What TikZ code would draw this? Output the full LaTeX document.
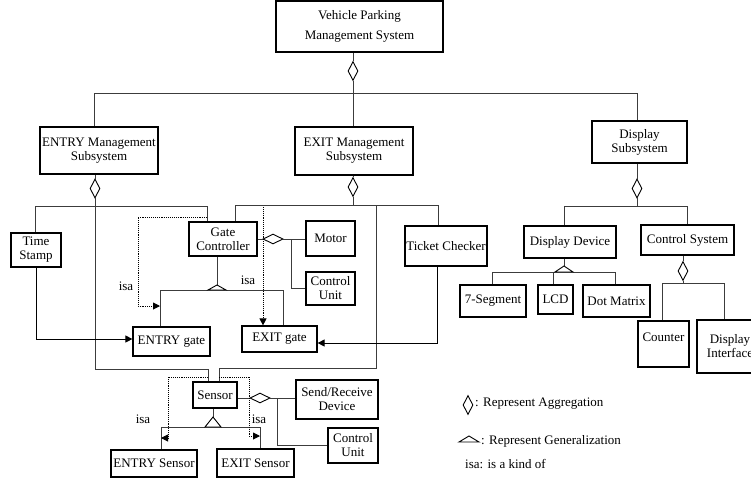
\documentclass[tikz,border=0pt]{standalone}
\usepackage{fontspec}
\setmainfont{Liberation Serif}
\usetikzlibrary{shapes.geometric, arrows.meta, positioning, calc}
\definecolor{linegray}{RGB}{60, 60, 60}
\tikzset{
    % Class boxes
    class box/.style={
        rectangle, draw=black, line width=1.2pt, inner sep=0pt,
        align=center, font=\fontsize{13}{14}\selectfont
    },
    % Aggregation diamonds
    agg/.style={
        diamond, draw=black, line width=0.9pt, fill=white, inner sep=0pt,
        minimum width=10pt, minimum height=19pt
    },
    agg h/.style={agg, minimum width=20pt, minimum height=10pt},
    % Generalization triangles
    gen/.style={draw=black, line width=0.9pt, fill=white},
    % Connectors
    link/.style={line width=0.9pt, color=linegray},
    solid arrow/.style={-{Triangle[length=7pt, width=7pt]}, line width=0.9pt, black},
    isa arrow/.style={-{Triangle[length=7pt, width=7pt]}, line width=0.9pt, densely dotted, black},
    % Plain texts
    plain text/.style={font=\fontsize{13}{14}\selectfont, inner sep=0pt}
}

\begin{document}
\begin{tikzpicture}[x=1pt, y=-1pt]

    \useasboundingbox (0,0) rectangle (751,488);

    % ======== BOXES ========
    \node[class box, minimum width=167pt, minimum height=51pt, font=\fontsize{13}{20}\selectfont] (vpms) at (359.5,26.5) {Vehicle Parking\\Management System};

    \node[class box, minimum width=118pt, minimum height=47pt] (entrymgmt) at (99,150.5) {ENTRY Management\\Subsystem};
    \node[class box, minimum width=118pt, minimum height=48pt] (exitmgmt) at (354,151) {EXIT Management\\Subsystem};
    \node[class box, minimum width=95pt, minimum height=42pt] (dispsub) at (639.5,142) {Display\\Subsystem};

    \node[class box, minimum width=50pt, minimum height=34pt] (stamp) at (36,250) {Time\\Stamp};
    \node[class box, minimum width=68pt, minimum height=34pt] (gatectrl) at (223,239) {Gate\\Controller};
    \node[class box, minimum width=49pt, minimum height=35pt] (motor) at (330.5,238.5) {Motor};
    \node[class box, minimum width=49pt, minimum height=33pt] (ctrlunit) at (330.5,288.5) {Control\\Unit};
    \node[class box, minimum width=82pt, minimum height=40pt] (ticket) at (446,246) {Ticket Checker};
    \node[class box, minimum width=77pt, minimum height=29pt] (entrygate) at (171.5,341.5) {ENTRY gate};
    \node[class box, minimum width=75pt, minimum height=26pt] (exitgate) at (279.5,339) {EXIT gate};

    \node[class box, minimum width=44pt, minimum height=26pt] (sensor) at (215,395) {Sensor};
    \node[class box, minimum width=82pt, minimum height=39pt] (sendrecv) at (337,399.5) {Send/Receive\\Device};
    \node[class box, minimum width=50pt, minimum height=35pt] (ctrlunittwo) at (353,445.5) {Control\\Unit};
    \node[class box, minimum width=86pt, minimum height=27pt] (entrysensor) at (154,463.5) {ENTRY Sensor};
    \node[class box, minimum width=77pt, minimum height=28pt] (exitsensor) at (255.5,463) {EXIT Sensor};

    \node[class box, minimum width=92pt, minimum height=32pt] (dispdev) at (570,242) {Display Device};
    \node[class box, minimum width=93pt, minimum height=30pt] (ctrlsys) at (687.5,240) {Control System};
    \node[class box, minimum width=66pt, minimum height=32pt] (sevenseg) at (493,301) {7-Segment};
    \node[class box, minimum width=35pt, minimum height=29pt] (lcd) at (555.5,299.5) {LCD};
    \node[class box, minimum width=67pt, minimum height=32pt] (dotmatrix) at (616.5,301) {Dot Matrix};
    \node[class box, minimum width=51pt, minimum height=46pt] (counter) at (663.5,344) {Counter\\~};
    \node[class box, minimum width=66pt, minimum height=53pt] (dispif) at (730,346.5) {Display\\Interface};

    % ======== SYSTEM LEVEL ========
    \node[agg] (d0) at (353,71) {};
    \coordinate (b0) at (353,93);
    \coordinate (b0w) at (94,93);
    \coordinate (b0e) at (637,93);
    \draw[link] (vpms.south -| d0) -- (d0.north);
    \draw[link] (d0.south) -- (b0);
    \draw[link] (b0w) -- (b0e);
    \draw[link] (b0w) -- (b0w |- entrymgmt.north);
    \draw[link] (b0) -- (b0 |- exitmgmt.north);
    \draw[link] (b0e) -- (b0e |- dispsub.north);

    % ======== ENTRY MANAGEMENT ========
    \node[agg] (d1) at (95,188.5) {};
    \coordinate (b1w) at (35,206);
    \coordinate (b1e) at (207,206);
    \coordinate (s1) at (95,369);
    \coordinate (s1c) at (208,369);
    \draw[link] (entrymgmt.south -| d1) -- (d1.north);
    \draw[link] (d1.south) -- (s1) -- (s1c) -- (s1c |- sensor.north);
    \draw[link] (b1w) -- (b1e);
    \draw[link] (b1w) -- (b1w |- stamp.north);
    \draw[link] (b1e) -- (b1e |- gatectrl.north);

    % ======== EXIT MANAGEMENT ========
    \node[agg] (d2) at (353,187) {};
    \coordinate (b2) at (353,205);
    \coordinate (b2w) at (235,205);
    \coordinate (b2e) at (438,205);
    \coordinate (s2) at (376,205);
    \coordinate (s2d) at (376,368);
    \coordinate (s2c) at (219,368);
    \draw[link] (exitmgmt.south -| d2) -- (d2.north);
    \draw[link] (d2.south) -- (b2);
    \draw[link] (b2w) -- (b2e);
    \draw[link] (b2w) -- (b2w |- gatectrl.north);
    \draw[link] (b2e) -- (b2e |- ticket.north);
    \draw[link] (s2) -- (s2d) -- (s2c) -- (s2c |- sensor.north);

    % Gate controller: aggregation
    \node[agg h] (d5) at (273,239) {};
    \coordinate (c5) at (291,239);
    \draw[link] (gatectrl.east |- d5) -- (d5.west);
    \draw[link] (d5.east) -- (motor.west |- d5);
    \draw[link] (c5) |- (ctrlunit.west);

    % Gate controller: generalization
    \coordinate (g1) at (217,285);
    \coordinate (b6w) at (160,290);
    \coordinate (b6e) at (283,290);
    \draw[link] (gatectrl.south -| g1) -- (g1);
    \draw[link] (b6w) -- (b6e);
    \draw[link] (b6w) -- (b6w |- entrygate.north);
    \draw[link] (b6e) -- (b6e |- exitgate.north);
    \draw[gen] (g1) -- ++(-9,5) -- ++(18,0) -- cycle;

    % isa arrows (gates)
    \coordinate (i1) at (207,217);
    \coordinate (i1a) at (138,217);
    \coordinate (i1b) at (138,306);
    \draw[isa arrow] (i1) -- (i1a) -- (i1b) -- (i1b -| b6w);
    \node[plain text] (isaone) at (126,286) {isa};
    \coordinate (i2) at (263,207);
    \draw[isa arrow] (i2) -- (i2 |- exitgate.north);
    \node[plain text] (isatwo) at (248,280) {isa};

    % Time stamp and ticket checker
    \draw[solid arrow] (stamp.south) |- ([yshift=2.5pt]entrygate.west);
    \draw[solid arrow] ([xshift=-9pt]ticket.south) |- ([yshift=-4pt]exitgate.east);

    % ======== SENSOR ========
    \node[agg h] (d6) at (260,398) {};
    \coordinate (c6) at (277,398);
    \draw[link] (sensor.east |- d6) -- (d6.west);
    \draw[link] (d6.east) -- (sendrecv.west |- d6);
    \draw[link] (c6) |- (ctrlunittwo.west);

    \coordinate (g2) at (213,417);
    \coordinate (b7w) at (161,427);
    \coordinate (b7e) at (260,427);
    \draw[link] (sensor.south -| g2) -- (g2);
    \draw[link] (b7w) -- (b7e);
    \draw[link] (b7w) -- (b7w |- entrysensor.north);
    \draw[link] (b7e) -- (b7e |- exitsensor.north);
    \draw[gen] (g2) -- ++(-8,10) -- ++(16,0) -- cycle;

    % isa arrows (sensors)
    \coordinate (j1) at (168,377);
    \coordinate (j1b) at (168,438);
    \draw[isa arrow] (s1c |- j1) -- (j1) -- (j1b) -- (j1b -| b7w);
    \node[plain text] (isathree) at (143,419) {isa};
    \coordinate (j2) at (249,377);
    \coordinate (j2b) at (249,436);
    \draw[isa arrow] (s2c |- j2) -- (j2) -- (j2b) -- (j2b -| b7e);
    \node[plain text] (isafour) at (259,419) {isa};

    % ======== DISPLAY ========
    \node[agg] (d3) at (637,188.5) {};
    \coordinate (b3) at (637,206);
    \coordinate (b3w) at (564,206);
    \coordinate (b3e) at (687,206);
    \draw[link] (dispsub.south -| d3) -- (d3.north);
    \draw[link] (d3.south) -- (b3);
    \draw[link] (b3w) -- (b3e);
    \draw[link] (b3w) -- (b3w |- dispdev.north);
    \draw[link] (b3e) -- (b3e |- ctrlsys.north);

    % Display device: generalization
    \coordinate (g3) at (564,266);
    \coordinate (b4w) at (492,272);
    \coordinate (b4m) at (553,272);
    \coordinate (b4e) at (615,272);
    \draw[link] (dispdev.south -| g3) -- (g3);
    \draw[link] (b4w) -- (b4e);
    \draw[link] (b4w) -- (b4w |- sevenseg.north);
    \draw[link] (b4m) -- (b4m |- lcd.north);
    \draw[link] (b4e) -- (b4e |- dotmatrix.north);
    \draw[gen] (g3) -- ++(-9,6) -- ++(18,0) -- cycle;

    % Control system: aggregation
    \node[agg] (d4) at (683,271) {};
    \coordinate (b5) at (683,283);
    \coordinate (b5w) at (662,283);
    \coordinate (b5e) at (724,283);
    \draw[link] (ctrlsys.south -| d4) -- (d4.north);
    \draw[link] (d4.south) -- (b5);
    \draw[link] (b5w) -- (b5e);
    \draw[link] (b5w) -- (b5w |- counter.north);
    \draw[link] (b5e) -- (b5e |- dispif.north);

    % ======== LEGEND ========
    \node[agg] (legagg) at (468,405) {};
    \node[plain text, anchor=west] (legaggtext) at (475,404) {: Represent Aggregation};
    \coordinate (leggen) at (469,436);
    \draw[gen] (leggen) -- ++(-10,6) -- ++(20,0) -- cycle;
    \node[plain text, anchor=west] (leggentext) at (481,441) {: Represent Generalization};
    \node[plain text, anchor=west] (legisa) at (465,464) {isa: is a kind of};

\end{tikzpicture}
\end{document}
